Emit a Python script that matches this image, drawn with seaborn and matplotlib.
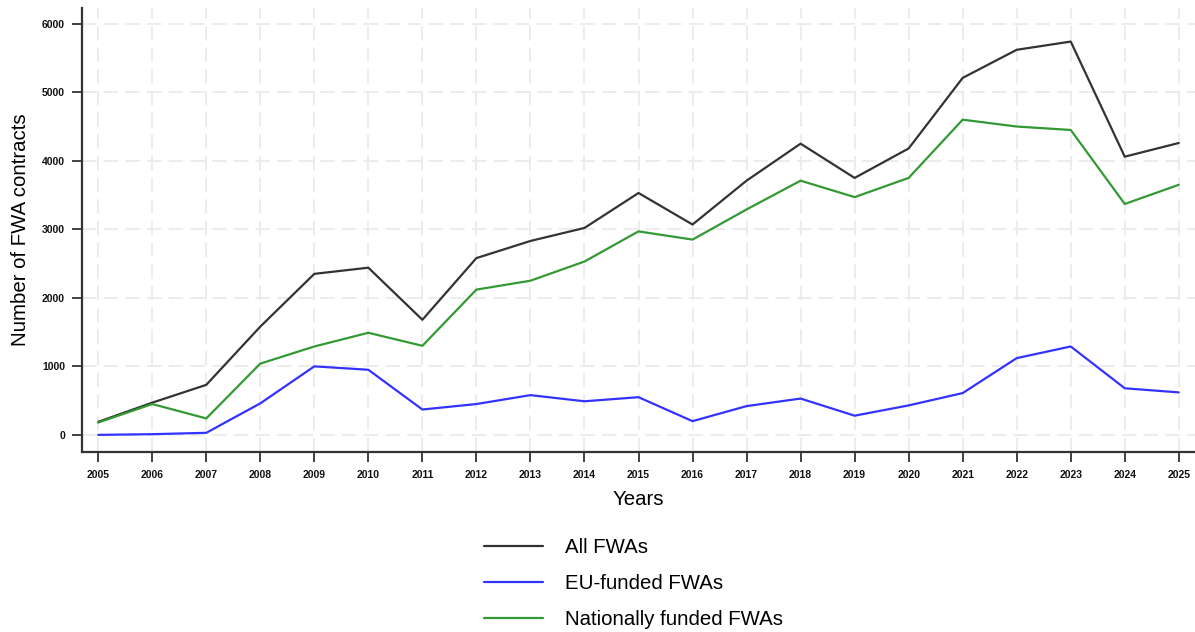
import matplotlib
matplotlib.use("Agg")
import matplotlib.pyplot as plt
import pandas as pd
import seaborn as sns

years = list(range(2005, 2026))
all_fwas = [190, 470, 730, 1580, 2350, 2440, 1680, 2580, 2830, 3020, 3530,
            3070, 3710, 4250, 3750, 4180, 5210, 5620, 5740, 4060, 4260]
eu_fwas = [0, 10, 30, 460, 1000, 950, 370, 450, 580, 490, 550,
           200, 420, 530, 280, 430, 610, 1120, 1290, 680, 620]
national_fwas = [180, 450, 240, 1040, 1290, 1490, 1300, 2120, 2250, 2530, 2970,
                 2850, 3290, 3710, 3470, 3750, 4600, 4500, 4450, 3370, 3650]
series_names = ["All FWAs", "EU-funded FWAs", "Nationally funded FWAs"]
colors = ["#333333", "#3333ff", "#339933"]

df = pd.concat([
    pd.DataFrame({"year": years, "count": vals, "series": name})
    for name, vals in zip(series_names, [all_fwas, eu_fwas, national_fwas])
])

sns.set_theme(style="white")
plt.rcParams["font.family"] = ["Liberation Sans", "DejaVu Sans"]
plt.rcParams["text.color"] = "black"
plt.rcParams["axes.labelcolor"] = "black"

fig = plt.figure(figsize=(11.95, 6.32), dpi=100)
ax = fig.add_axes([82 / 1195, 1 - 452 / 632, 1 - 82 / 1195, (452 - 8) / 632])

sns.lineplot(data=df, x="year", y="count", hue="series", hue_order=series_names,
             palette=colors, linewidth=1.6, ax=ax, legend=False)

ax.set_xlim(2004.7, 2025.3)
ax.set_ylim(-250, 6230)
ax.set_xticks(years)
ax.set_yticks(range(0, 7000, 1000))
ax.grid(True, color="#ebebeb", linestyle=(0, (8, 4)), linewidth=1.3)
ax.set_axisbelow(True)

for s in ["top", "right"]:
    ax.spines[s].set_visible(False)
for s in ["left", "bottom"]:
    ax.spines[s].set_color("#333333")
    ax.spines[s].set_linewidth(1.6)

ax.tick_params(axis="both", which="major", length=7.2, width=1.3, color="#333333",
               labelsize=7.5, labelcolor="#111111", pad=5, bottom=True, left=True)
ax.tick_params(axis="x", pad=6)
for lab in ax.get_xticklabels() + ax.get_yticklabels():
    lab.set_fontweight("bold")

ax.set_xlabel("Years", fontsize=14.7, labelpad=7)
ax.set_ylabel("Number of FWA contracts", fontsize=14.7, labelpad=9)

handles = [plt.Line2D([], [], color=c, linewidth=1.6) for c in colors]
fig.legend(handles, series_names, loc="upper left",
           bbox_to_anchor=(484 / 1195, 1 - 538 / 632), frameon=False,
           fontsize=14.7, handlelength=2.9, handletextpad=1.08, labelspacing=0.84,
           borderpad=0, borderaxespad=0)

fig.savefig("out.png", dpi=100)
